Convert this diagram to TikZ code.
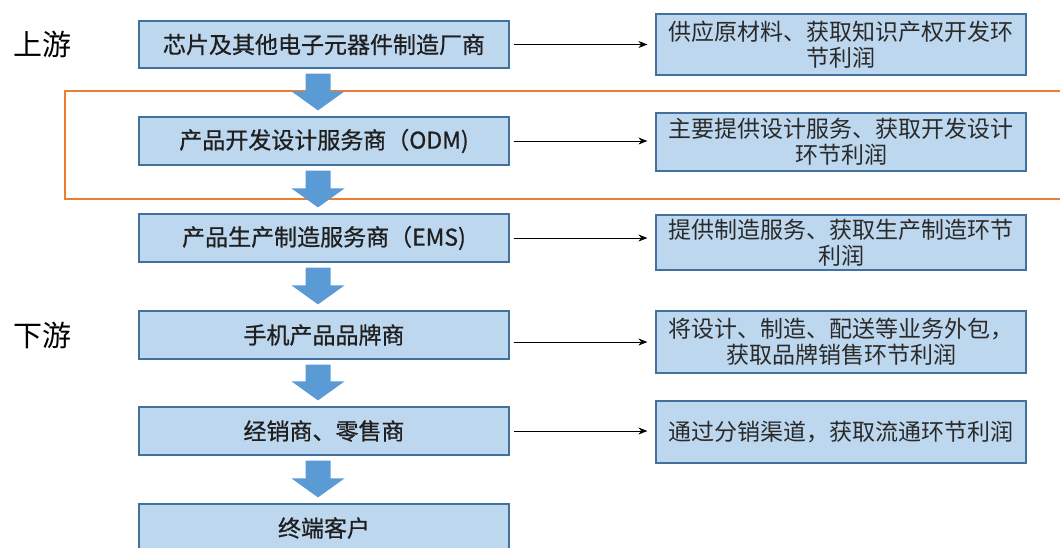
\documentclass[tikz,border=0pt]{standalone}
\usepackage{fontspec}
\newfontfamily\cjk{Noto Sans CJK SC}
\newfontfamily\cjkb[FakeBold=0.8]{Noto Sans CJK SC}
\usetikzlibrary{calc,arrows.meta}
\definecolor{boxfill}{HTML}{BDD7EE}
\definecolor{boxline}{HTML}{41719C}
\definecolor{arrfill}{HTML}{5B9BD5}
\definecolor{orangeline}{HTML}{ED7D31}
\definecolor{txt}{HTML}{1F1F1F}
\definecolor{rtxt}{HTML}{2A2A2A}
\newcommand\blockarrow[2]{%
  \fill[arrfill] let \p1=(#1.south), \p2=(#2.north) in
    (\x1-6pt-12.5pt,\y1-5pt) -- (\x1-6pt+12.5pt,\y1-5pt) --
    (\x1-6pt+12.5pt,\y2+25pt) -- (\x1-6pt+26.5pt,\y2+25pt) --
    (\x1-6pt,\y2+6pt) --
    (\x1-6pt-26.5pt,\y2+25pt) -- (\x1-6pt-12.5pt,\y2+25pt) -- cycle;}
\begin{document}
\begin{tikzpicture}[x=1pt,y=-1pt,
  lbox/.style={draw=boxline, fill=boxfill, line width=1.2pt, minimum width=370pt,
    inner sep=0pt, font=\cjkb\fontsize{23}{27}\selectfont, text=txt},
  rbox/.style={draw=boxline, fill=boxfill, line width=1.2pt, minimum width=370pt,
    inner sep=0pt, align=center, font=\cjk\fontsize{23}{26}\selectfont, text=rtxt},
  side/.style={font=\cjk\fontsize{29}{32}\selectfont, text=black, inner sep=0pt},
  link/.style={-{Stealth[length=9pt,width=7pt]}, line width=0.8pt, black,
    shorten <=4pt, shorten >=8pt},
]
\useasboundingbox (0,0) rectangle (1060,547);
\clip (0,0) rectangle (1060,547);

% orange frame
\draw[orangeline, line width=1.3pt] (65,91) rectangle (1075,199);

% side labels
\node[side] (up) at (42,44) {上游};
\node[side] (down) at (42,335) {下游};

% left chain
\node[lbox, minimum height=47pt] (L1) at (324,44.5) {芯片及其他电子元器件制造厂商};
\node[lbox, minimum height=48pt] (L2) at (324,141) {产品开发设计服务商（ODM)};
\node[lbox, minimum height=48pt] (L3) at (324,238) {产品生产制造服务商（EMS)};
\node[lbox, minimum height=48pt] (L4) at (324,335) {手机产品品牌商};
\node[lbox, minimum height=48pt] (L5) at (324,431) {经销商、零售商};
\node[lbox, minimum height=48pt] (L6) at (324,528) {终端客户};

% right descriptions
\node[rbox, minimum height=61pt] (R1) at (841,44.5) {供应原材料、获取知识产权开发环\\节利润};
\node[rbox, minimum height=58pt] (R2) at (841,142) {主要提供设计服务、获取开发设计\\环节利润};
\node[rbox, minimum height=55pt] (R3) at (841,242.5) {提供制造服务、获取生产制造环节\\利润};
\node[rbox, minimum height=62pt] (R4) at (841,342) {将设计、制造、配送等业务外包，\\获取品牌销售环节利润};
\node[rbox, minimum height=62pt] (R5) at (841,432) {通过分销渠道，获取流通环节利润};

% block arrows
\blockarrow{L1}{L2}
\blockarrow{L2}{L3}
\blockarrow{L3}{L4}
\blockarrow{L4}{L5}
\blockarrow{L5}{L6}

% horizontal links
\draw[link] (L1.east) -- (R1.west |- L1.east);
\draw[link] (L2.east) -- (R2.west |- L2.east);
\draw[link] (L3.east) -- (R3.west |- L3.east);
\draw[link] (L4.east |- R4.west) -- (R4.west);
\draw[link] (L5.east) -- (R5.west |- L5.east);
\end{tikzpicture}
\end{document}
